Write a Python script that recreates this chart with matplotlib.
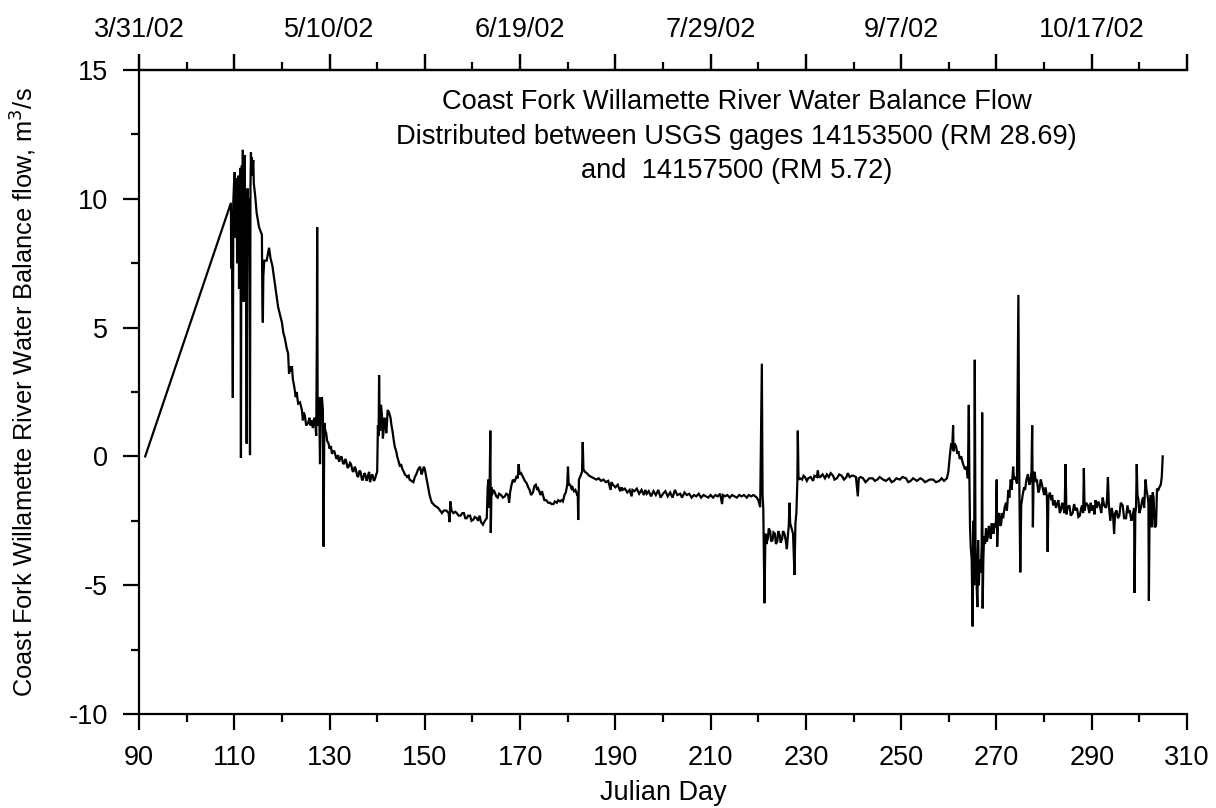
import matplotlib
matplotlib.use("Agg")
import matplotlib.pyplot as plt
from matplotlib.ticker import MultipleLocator, FixedLocator, FixedFormatter

plt.rcParams['font.family'] = ['Liberation Sans', 'DejaVu Sans']

# ---- data, split into periods ----
# spring rise and storm peak
days_a = [91.3, 109.3, 109.35, 109.45, 109.55, 109.7, 109.8, 109.95, 110.1, 110.2, 110.3, 110.4, 110.5,
          110.6, 110.7, 110.8, 110.9, 111.0, 111.1, 111.2, 111.3, 111.4, 111.5, 111.6, 111.7, 111.8, 111.9,
          112.0, 112.1, 112.2, 112.3, 112.4, 112.5, 112.6, 112.7, 112.8, 112.9, 113.0, 113.1, 113.2, 113.3,
          113.4, 113.5, 113.6, 113.7, 113.8, 114.0, 114.1, 114.4, 114.7, 115.2, 115.8, 115.9, 116.0, 116.1,
          116.3, 116.8, 117.3, 117.6, 118.0, 118.6, 119.2, 119.6, 120.0, 120.3, 120.6, 121.0, 121.3, 121.5,
          121.6, 121.9, 122.1, 122.3, 122.6, 122.9, 123.1, 123.4, 123.8, 124.2, 124.4, 124.6, 124.8, 125.1,
          125.5, 125.8, 126.0, 126.3, 126.5, 126.8, 127.0, 127.2, 127.35, 127.4, 127.5, 127.6, 127.7, 127.8,
          127.9, 128.0, 128.2, 128.4, 128.6, 128.75, 128.9, 129.1, 129.3, 129.5, 129.8, 130.0, 130.3, 130.5,
          130.8]
flow_a = [0.0, 9.84, 7.3, 9.6, 7.0, 2.27, 9.9, 10.6, 11.04, 8.5, 10.3, 9.0, 10.8,
          7.5, 10.2, 8.2, 10.9, 6.5, 10.5, 9.5, 11.2, -0.06, 10.8, 11.3, 9.0, 11.9, 9.5,
          6.0, 11.5, 11.7, 8.0, 9.8, 7.0, 0.5, 9.0, 10.4, 8.5, 7.8, 10.0, 6.5, 0.05,
          10.5, 11.8, 10.9, 11.6, 11.2, 11.5, 10.6, 10.1, 9.45, 8.9, 8.6, 6.0, 5.2, 7.0,
          7.6, 7.6, 8.1, 7.7, 7.4, 6.6, 5.8, 5.5, 5.2, 4.8, 4.6, 4.2, 4.0, 3.2,
          3.5, 3.3, 3.5, 3.0, 2.7, 2.3, 2.5, 2.05, 2.1, 1.8, 1.4, 1.7, 1.6, 1.2,
          1.3, 1.5, 1.2, 1.4, 1.1, 1.5, 1.3, 0.8, 5.0, 8.9, 2.0, 1.2, 2.0, 2.3,
          1.0, -0.3, 2.2, 2.3, 1.8, -3.5, 1.3, 1.0, 0.9, 0.6, 0.5, 0.3, 0.4, 0.1,
          0.2]

# recession through late spring
days_b = [131.0, 131.3, 131.5, 131.8, 132.0, 132.3, 132.5, 132.8, 133.0, 133.3, 133.5, 133.8, 134.0,
          134.3, 134.5, 134.8, 135.0, 135.3, 135.5, 135.8, 136.0, 136.3, 136.5, 136.8, 137.0, 137.3, 137.5,
          137.8, 138.0, 138.3, 138.5, 138.8, 139.0, 139.3, 139.5, 139.8, 140.0, 140.15, 140.3, 140.4, 140.5,
          140.6, 140.8, 141.0, 141.2, 141.3, 141.5, 141.7, 141.9, 142.0, 142.2, 142.5, 142.8, 143.0, 143.2,
          143.5, 143.7, 144.0, 144.2, 144.5, 144.8, 145.0, 145.3, 145.6, 145.8, 146.1, 146.3, 146.6, 146.8,
          147.2, 147.6, 147.9, 148.2, 148.6, 149.0, 149.3, 149.5, 149.8, 150.0, 150.3, 150.5, 150.8, 151.0,
          151.3, 151.5, 151.8, 152.0, 152.4, 152.8, 153.2, 153.6, 154.0, 154.5, 155.0, 155.2, 155.35, 155.6,
          156.0, 156.4, 156.7, 157.1, 157.5, 157.9, 158.2, 158.5, 158.8, 159.1, 159.5, 159.8, 160.2, 160.5,
          160.9, 161.2, 161.5, 161.8, 162.2, 162.6, 163.0, 163.2, 163.35, 163.5, 163.6, 163.75, 163.85, 164.0,
          164.1, 164.4, 164.7, 165.0, 165.3, 165.6, 166.0, 166.4, 166.8, 167.1, 167.5, 167.7, 167.9, 168.2,
          168.5, 168.8, 169.2, 169.5, 169.7, 169.9, 170.2, 170.6, 171.0, 171.4, 171.7, 172.0, 172.3, 172.7,
          173.0, 173.3, 173.6, 173.8, 174.1, 174.3, 174.6, 174.8, 175.1, 175.5, 175.9, 176.3, 176.6, 177.0,
          177.3, 177.7, 178.0, 178.4, 178.7, 179.0, 179.3, 179.6, 179.9, 180.05, 180.2, 180.5, 180.8, 181.0,
          181.3, 181.6, 181.9, 182.1, 182.2, 182.35, 182.6, 182.8, 183.0, 183.15, 183.3, 183.6, 184.0, 184.5]
flow_b = [0.2, 0.0, -0.1, 0.05, -0.2, -0.05, 0.0, -0.25, -0.3, -0.1, -0.2, -0.45, -0.4,
          -0.25, -0.3, -0.55, -0.6, -0.4, -0.5, -0.75, -0.8, -0.55, -0.6, -0.9, -0.9, -0.65, -0.7,
          -0.95, -0.8, -0.6, -1.0, -0.75, -0.7, -0.95, -0.9, -0.7, -0.6, 1.2, 0.8, 3.15, 1.5,
          1.0, 2.0, 1.6, 0.7, 0.9, 1.5, 1.4, 0.9, 1.1, 1.8, 1.7, 1.5, 1.2, 1.0,
          0.6, 0.37, 0.2, 0.0, -0.2, -0.4, -0.3, -0.5, -0.6, -0.7, -0.75, -0.8, -0.75, -0.9,
          -0.95, -1.0, -0.8, -0.7, -0.5, -0.4, -0.7, -0.6, -0.4, -0.5, -0.8, -1.0, -1.3, -1.5,
          -1.7, -1.8, -1.85, -1.9, -1.95, -2.0, -2.1, -2.2, -2.1, -2.1, -2.2, -2.55, -1.75, -2.1,
          -2.2, -2.15, -2.2, -2.3, -2.3, -2.2, -2.2, -2.4, -2.4, -2.3, -2.3, -2.5, -2.45, -2.35,
          -2.4, -2.5, -2.3, -2.55, -2.65, -2.5, -2.4, -1.2, -0.9, -2.0, -1.3, 1.0, -2.97, -1.2,
          -1.5, -1.3, -1.4, -1.55, -1.6, -1.45, -1.5, -1.6, -1.55, -1.45, -1.5, -1.8, -1.4, -1.1,
          -0.9, -1.0, -0.8, -0.85, -0.3, -0.7, -0.65, -0.8, -0.95, -1.05, -1.2, -1.3, -1.5, -1.4,
          -1.15, -1.1, -1.3, -1.25, -1.4, -1.5, -1.35, -1.5, -1.7, -1.7, -1.8, -1.8, -1.85, -1.85,
          -1.75, -1.8, -1.7, -1.75, -1.7, -1.75, -1.5, -1.4, -1.1, -0.4, -1.1, -1.1, -1.25, -1.2,
          -1.35, -1.3, -1.45, -1.4, -2.47, -0.9, -0.8, -0.7, -0.6, 0.56, -0.5, -0.6, -0.65, -0.75]

# summer base flow and August disturbance
days_c = [185.0, 185.5, 186.0, 186.5, 187.0, 187.5, 188.0, 188.5, 189.0, 189.2, 189.5, 190.0, 190.5,
          191.0, 191.3, 191.5, 192.0, 192.5, 193.0, 193.4, 193.6, 194.0, 194.5, 195.0, 195.5, 196.0, 196.3,
          196.6, 197.0, 197.5, 198.0, 198.5, 199.0, 199.5, 200.0, 200.5, 201.0, 201.5, 202.0, 202.5, 203.0,
          203.6, 204.0, 204.5, 205.0, 205.5, 206.0, 206.5, 207.0, 207.5, 208.0, 208.5, 209.0, 209.5, 210.0,
          210.5, 211.0, 211.5, 212.0, 212.4, 212.6, 213.0, 213.5, 214.0, 214.5, 215.0, 215.5, 216.0, 216.5,
          217.0, 217.6, 218.0, 218.5, 219.0, 219.7, 220.0, 220.4, 220.75, 220.9, 221.05, 221.3, 221.5, 221.7,
          222.0, 222.2, 222.5, 222.7, 223.0, 223.2, 223.5, 223.7, 224.0, 224.2, 224.5, 224.7, 225.0, 225.2,
          225.5, 225.8, 226.0, 226.2, 226.4, 226.55, 226.7, 227.0, 227.3, 227.6, 227.8, 228.0, 228.2, 228.3,
          228.45]
flow_c = [-0.8, -0.85, -0.9, -0.85, -0.95, -0.9, -1.0, -0.95, -1.3, -1.0, -1.1, -1.2, -1.1,
          -1.35, -1.2, -1.3, -1.25, -1.4, -1.3, -1.55, -1.3, -1.35, -1.25, -1.45, -1.3, -1.5, -1.3,
          -1.45, -1.35, -1.55, -1.35, -1.5, -1.3, -1.6, -1.45, -1.35, -1.55, -1.4, -1.6, -1.3, -1.5,
          -1.45, -1.6, -1.4, -1.5, -1.45, -1.6, -1.5, -1.55, -1.45, -1.6, -1.5, -1.55, -1.6, -1.5,
          -1.6, -1.5, -1.55, -1.45, -1.85, -1.5, -1.55, -1.5, -1.6, -1.5, -1.55, -1.6, -1.5, -1.55,
          -1.5, -1.6, -1.5, -1.55, -1.5, -1.6, -1.7, -1.97, 3.6, -1.5, -2.0, -5.7, -3.0, -3.4,
          -3.2, -2.8, -2.9, -3.3, -3.25, -2.95, -3.0, -3.4, -3.3, -2.9, -3.05, -3.35, -3.2, -2.9,
          -3.0, -3.3, -3.6, -3.1, -2.7, -1.8, -2.6, -2.8, -3.0, -4.6, -2.6, -2.2, -1.0, 1.0,
          -0.9]

# late summer and autumn
days_d = [228.8, 229.2, 229.5, 229.8, 230.2, 230.5, 231.0, 231.5, 231.8, 232.3, 232.5, 232.7, 233.0,
          233.5, 234.0, 234.4, 234.8, 235.2, 235.7, 236.0, 236.5, 237.0, 237.5, 238.0, 238.5, 238.8, 239.2,
          239.6, 240.0, 240.5, 240.9, 241.1, 241.5, 242.0, 242.5, 242.8, 243.3, 244.0, 244.5, 245.0, 245.5,
          246.2, 246.8, 247.5, 248.0, 248.5, 249.0, 249.7, 250.3, 251.0, 251.5, 252.0, 252.5, 253.3, 254.0,
          254.5, 255.0, 255.5, 256.0, 256.7, 257.3, 258.0, 258.5, 259.0, 259.6, 259.9, 260.2, 260.5, 260.7,
          260.9, 261.0, 261.2, 261.5, 261.8, 262.0, 262.3, 262.6, 263.0, 263.4, 263.7, 264.0, 264.2, 264.3,
          264.45, 264.6, 264.8, 265.0, 265.15, 265.3, 265.45, 265.6, 265.8, 266.0, 266.15, 266.3, 266.5, 266.7,
          266.9, 267.0, 267.1, 267.25, 267.4, 267.6, 267.8, 268.0, 268.2, 268.4, 268.6, 268.8, 269.0, 269.2,
          269.4, 269.6, 269.75, 269.9, 270.05, 270.15, 270.35, 270.6, 270.8, 271.0, 271.2, 271.4, 271.7, 272.0,
          272.2, 272.5, 272.7, 273.0, 273.2, 273.5, 273.7, 274.0, 274.3, 274.6, 274.8, 275.0, 275.2, 275.5,
          275.8, 276.0, 276.3, 276.6, 276.9, 277.1, 277.35, 277.5, 277.65, 277.8, 278.0, 278.3, 278.5, 278.8,
          279.0, 279.3, 279.5, 279.8, 280.0, 280.3, 280.6, 280.75, 280.9, 281.2, 281.5, 281.7, 281.9, 282.2,
          282.5, 282.8, 283.0, 283.3, 283.5, 283.8, 284.0, 284.3, 284.5, 284.7, 284.9, 285.3, 285.6, 286.0,
          286.3, 286.6, 286.9, 287.2, 287.5, 287.8, 288.0, 288.2, 288.35, 288.5, 288.8, 289.2, 289.5, 289.8,
          290.0, 290.3, 290.6, 290.8, 291.1, 291.4, 291.7, 292.0, 292.3, 292.6, 293.0, 293.2, 293.4, 293.6,
          293.9, 294.2, 294.5, 294.7, 294.9, 295.2, 295.5, 295.8, 296.1, 296.5, 296.8, 297.2, 297.5, 297.8,
          298.0, 298.3, 298.6, 298.9, 299.0, 299.15, 299.3, 299.45, 299.6, 299.8, 300.0, 300.3, 300.6, 300.8,
          301.0, 301.3, 301.5, 301.7, 301.9, 302.0, 302.15, 302.4, 302.6, 302.8, 303.0, 303.2, 303.5, 303.7,
          304.0, 304.2, 304.5, 304.7, 304.9]
flow_d = [-0.85, -0.9, -0.75, -0.8, -0.95, -0.85, -0.8, -0.95, -0.75, -0.8, -0.55, -0.8, -0.8,
          -0.7, -0.85, -0.7, -0.8, -0.65, -0.75, -0.9, -0.85, -0.7, -0.75, -0.9, -0.8, -0.65, -0.8,
          -0.75, -0.75, -0.8, -1.55, -0.85, -0.8, -0.85, -1.0, -0.95, -0.85, -0.85, -0.95, -0.9, -0.8,
          -0.9, -0.95, -0.85, -1.0, -0.95, -0.85, -0.9, -0.8, -0.85, -1.0, -0.95, -0.85, -0.95, -0.85,
          -0.9, -1.0, -0.95, -0.9, -0.9, -1.0, -0.95, -0.85, -0.95, -0.85, -0.6, 0.0, 0.5, 0.3,
          1.2, 0.2, 0.5, 0.4, 0.1, 0.2, -0.1, 0.0, -0.3, -0.5, -0.4, -0.85, 2.0, -0.5,
          -2.75, -3.5, -4.0, -6.6, -2.5, -5.0, 3.75, -3.5, -4.8, -5.85, -3.25, -5.0, -4.0, -4.5,
          -3.5, 1.7, -5.9, -4.0, -3.1, -3.4, -2.8, -3.3, -3.1, -2.7, -2.85, -3.2, -2.6, -2.9,
          -3.0, -2.6, -2.75, -2.5, -0.9, -3.5, -2.3, -2.2, -2.7, -2.6, -2.2, -2.4, -2.0, -1.8,
          -2.1, -1.3, -1.6, -0.9, -1.3, -0.4, -0.9, -0.8, -1.05, 6.27, -1.0, -4.5, -1.9, -1.5,
          -1.2, -1.3, -0.9, -0.7, -1.1, -1.0, -0.6, 1.2, -2.75, -0.7, -0.6, -1.0, -0.9, -1.4,
          -1.3, -0.9, -1.05, -1.3, -1.5, -1.2, -1.6, -3.7, -1.6, -1.4, -1.7, -1.5, -1.9, -1.7,
          -2.0, -1.8, -1.7, -2.2, -2.1, -1.8, -1.95, -2.2, -0.3, -2.25, -2.0, -1.9, -2.3, -2.2,
          -1.85, -2.1, -2.0, -2.35, -2.3, -2.0, -1.9, -2.2, -0.45, -2.1, -1.8, -1.9, -2.2, -1.8,
          -2.1, -1.9, -2.25, -1.7, -2.0, -1.75, -1.9, -2.2, -1.6, -1.9, -2.0, -1.7, -0.8, -1.9,
          -2.5, -2.0, -2.35, -3.0, -2.2, -2.1, -2.4, -2.3, -1.8, -1.9, -2.4, -2.4, -1.9, -2.2,
          -2.1, -2.5, -2.3, -2.0, -5.3, -2.2, -2.0, -0.3, -1.5, -1.65, -2.2, -2.0, -1.7, -1.6,
          -2.0, -0.9, -1.3, -1.5, -1.8, -5.6, -2.0, -1.5, -2.75, -1.4, -1.6, -2.75, -2.7, -1.25,
          -1.3, -1.2, -1.1, -0.8, 0.0]

bottom_ticks = [90, 110, 130, 150, 170, 190, 210, 230, 250, 270, 290, 310]
top_tick_days = [90, 110, 130, 150, 170, 190, 210, 230, 250, 270, 290, 310]
top_tick_labels = ['3/31/02', '', '5/10/02', '', '6/19/02', '', '7/29/02', '', '9/7/02', '', '10/17/02', '']
y_ticks = [-10, -5, 0, 5, 10, 15]

title_lines = ("Coast Fork Willamette River Water Balance Flow\n"
               "Distributed between USGS gages 14153500 (RM 28.69)\n"
               "and  14157500 (RM 5.72)")

days = days_a + days_b + days_c + days_d
flow = flow_a + flow_b + flow_c + flow_d

FS = 19.5
fig = plt.figure(figsize=(12.16, 8.08), dpi=100)
ax = fig.add_axes([139/1216, 1 - 714/808, (1187-139)/1216, (714-70)/808])

ax.plot(days, flow, color='black', lw=1.6, solid_joinstyle='miter')

ax.set_xlim(90, 310)
ax.set_ylim(-10, 15)

ax.spines['right'].set_visible(False)
for s in ['left', 'bottom', 'top']:
    ax.spines[s].set_linewidth(1.6)

ax.xaxis.set_major_locator(FixedLocator(bottom_ticks))
ax.xaxis.set_minor_locator(MultipleLocator(10))
ax.yaxis.set_major_locator(FixedLocator(y_ticks))
ax.yaxis.set_minor_locator(MultipleLocator(2.5))
ax.set_yticklabels([str(v) for v in y_ticks])

ax.tick_params(which='major', direction='out', length=11.5, width=1.6, labelsize=FS, pad=11,
               top=True, labeltop=False, right=False)
ax.tick_params(which='minor', direction='out', length=6, width=1.6, top=True, right=False)

sec = ax.secondary_xaxis('top')
sec.xaxis.set_major_locator(FixedLocator(top_tick_days))
sec.xaxis.set_major_formatter(FixedFormatter(top_tick_labels))
sec.tick_params(which='major', direction='out', length=11.5, width=1.6, labelsize=FS, pad=8)
sec.spines['top'].set_linewidth(1.6)

ax.set_xlabel('Julian Day', fontsize=FS, labelpad=6)
ax.set_ylabel('Coast Fork Willamette River Water Balance flow, m$^3$/s', fontsize=18.3, labelpad=21)

ax.text(215.5, 14.25, title_lines, ha='center', va='top', fontsize=19.6, linespacing=1.42)

fig.savefig('out.png', dpi=100)
